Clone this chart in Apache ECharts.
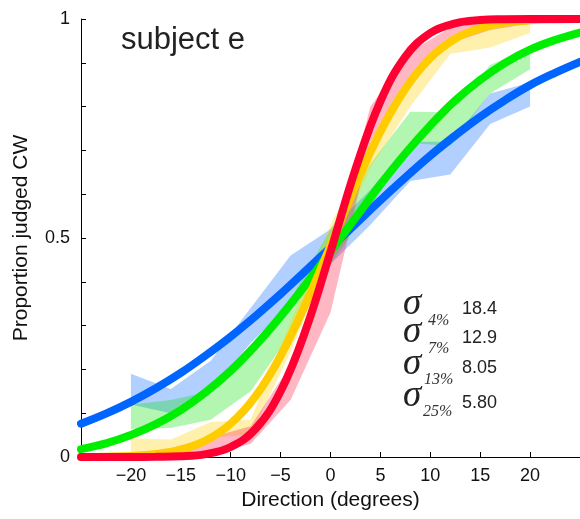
<!DOCTYPE html>
<html>
<head>
<meta charset="utf-8">
<script src="https://cdn.jsdelivr.net/npm/echarts@6/dist/echarts.min.js"></script>
<style>
html,body{margin:0;padding:0;background:#fff;}
#c{width:580px;height:519px;}
</style>
</head>
<body>
<div id="c"></div>
<script>
// ---- data ----
var curveX = [-25,-22.5,-20,-17.5,-15,-12.5,-10,-7.5,-5,-2.5,0,2.5,5,7.5,10,12.5,15,17.5,20,22.5,25];
var blueCurve   = [0.076,0.099,0.126,0.157,0.192,0.232,0.275,0.322,0.372,0.425,0.478,0.532,0.586,0.638,0.688,0.734,0.777,0.815,0.849,0.877,0.902];
var greenCurve  = [0.018,0.031,0.050,0.075,0.107,0.148,0.197,0.255,0.321,0.393,0.469,0.546,0.622,0.693,0.757,0.814,0.861,0.900,0.930,0.952,0.969];
var yellowCurve = [0.0002,0.0008,0.0024,0.0067,0.0168,0.0377,0.0762,0.139,0.231,0.349,0.483,0.620,0.743,0.841,0.911,0.955,0.979,0.992,0.997,0.999,1.0];
var redCurve    = [0,0,0,0.0003,0.0015,0.0066,0.0228,0.0644,0.150,0.289,0.469,0.657,0.812,0.914,0.968,0.990,0.9975,0.9995,1,1,1];

var bandX = [-20,-16,-12,-8,-4,0,4,8,12,16,20];
var blueLow    = [0.12,0.10,0.15,0.26,0.35,0.44,0.53,0.63,0.645,0.76,0.80];
var blueHigh   = [0.19,0.155,0.22,0.34,0.46,0.52,0.61,0.72,0.72,0.83,0.855];
var greenLow   = [0.064,0.066,0.085,0.15,0.28,0.44,0.57,0.717,0.71,0.83,0.885];
var greenHigh  = [0.12,0.13,0.15,0.24,0.36,0.52,0.67,0.788,0.787,0.895,0.935];
var yellowLow  = [0.011,0.016,0.045,0.05,0.24,0.46,0.66,0.80,0.92,0.935,0.968];
var yellowHigh = [0.043,0.04,0.08,0.085,0.31,0.53,0.71,0.87,0.96,0.985,0.995];
var redLow     = [0,0,0.005,0.03,0.13,0.33,0.72,0.865,0.945,0.975,0.99];
var redHigh    = [0.005,0.02,0.045,0.07,0.21,0.45,0.80,0.925,0.98,0.995,1.0];

var xTickValues = [-20,-15,-10,-5,0,5,10,15,20];
var xTickLabels = ['\u221220','\u221215','\u221210','\u22125','0','5','10','15','20'];
var yTickValues = [0,0.5,1];
var yTickLabels = ['0','0.5','1'];

var sigmaLabels = ['4%','7%','13%','25%'];
var sigmaValues = ['18.4','12.9','8.05','5.80'];
var titleText = 'subject e';

// ---- build ----
function pairs(xs, ys){ return xs.map(function(x,i){return [x, ys[i]];}); }
function bandRows(xs, lo, hi){ return xs.map(function(x,i){return [x, lo[i], hi[i]];}); }

var conds = [
  {name:'blue',   line:'#0064ff', band:'rgba(0,100,255,0.30)', curve:blueCurve,   lo:blueLow,   hi:blueHigh},
  {name:'green',  line:'#00ee00', band:'rgba(0,225,0,0.30)',   curve:greenCurve,  lo:greenLow,  hi:greenHigh},
  {name:'yellow', line:'#ffcc00', band:'rgba(255,210,0,0.32)', curve:yellowCurve, lo:yellowLow, hi:yellowHigh},
  {name:'red',    line:'#ff0033', band:'rgba(255,30,70,0.32)', curve:redCurve,    lo:redLow,    hi:redHigh}
];

function makeBandRender(rows, color){
  return function(params, api){
    if (params.dataIndex !== 0) return null;
    var top = [], bot = [];
    for (var i=0;i<rows.length;i++){
      top.push(api.coord([rows[i][0], rows[i][2]]));
      bot.push(api.coord([rows[i][0], rows[i][1]]));
    }
    var pts = top.concat(bot.reverse());
    return {type:'polygon', shape:{points:pts}, style:{fill:color, stroke:null}, silent:true};
  };
}

var series = [];
conds.forEach(function(c){
  var rows = bandRows(bandX, c.lo, c.hi);
  series.push({
    type:'custom', name:c.name+'Band', data:rows,
    encode:{x:0, y:[1,2]},
    renderItem:makeBandRender(rows, c.band),
    silent:true, animation:false
  });
  series.push({
    type:'line', name:c.name+'Fit', data:pairs(curveX, c.curve),
    symbol:'none', smooth:0.4,
    lineStyle:{color:c.line, width:8, cap:'round'}, silent:true, animation:false
  });
});

var graphics = [{
  type:'text', x:121, y:40,
  style:{text:titleText, font:'31px "Liberation Sans", Arial, sans-serif', fill:'#222', align:'left', verticalAlign:'middle'}
}];
var sigY = [304, 332, 364, 396];
var subY = [321, 349, 380, 412];
var valY = [309, 338, 368, 403];
var subX = [428, 428, 424, 423];
sigmaLabels.forEach(function(lab, i){
  graphics.push({type:'text', x:403, y:sigY[i], style:{text:'\u03c3', font:'italic 37px "Liberation Serif", "Times New Roman", serif', fill:'#222', align:'left', verticalAlign:'middle'}});
  graphics.push({type:'text', x:subX[i], y:subY[i], style:{text:lab, font:'italic 16px "Liberation Serif", "Times New Roman", serif', fill:'#333', align:'left', verticalAlign:'middle'}});
  graphics.push({type:'text', x:462, y:valY[i], style:{text:sigmaValues[i], font:'18px "Liberation Sans", Arial, sans-serif', fill:'#222', align:'left', verticalAlign:'middle'}});
});

var chart = echarts.init(document.getElementById('c'), null, {renderer:'canvas'});
chart.setOption({
  animation:false,
  backgroundColor:'#fff',
  grid:{left:81, right:0, top:19, bottom:62, containLabel:false, outerBoundsMode:'none'},
  xAxis:{
    type:'value', min:-25, max:25, interval:5,
    name:'Direction (degrees)', nameLocation:'middle', nameGap:29,
    nameTextStyle:{fontSize:21, color:'#111', fontFamily:'Liberation Sans'},
    axisLine:{show:true, onZero:false, lineStyle:{color:'#000', width:1}},
    axisTick:{show:true, inside:true, length:5, lineStyle:{color:'#000'}},
    axisLabel:{fontSize:18, color:'#111', fontFamily:'Liberation Sans', margin:10,
      formatter:function(v){ var i = xTickValues.indexOf(v); return i<0 ? '' : xTickLabels[i]; }},
    splitLine:{show:false}
  },
  yAxis:{
    type:'value', min:0, max:1, interval:0.1,
    name:'Proportion judged CW', nameLocation:'middle', nameGap:49, nameRotate:90,
    nameTextStyle:{fontSize:21, color:'#111', fontFamily:'Liberation Sans'},
    axisLine:{show:true, onZero:false, lineStyle:{color:'#000', width:1}},
    axisTick:{show:true, inside:true, length:5, lineStyle:{color:'#000'}},
    axisLabel:{fontSize:18, color:'#111', fontFamily:'Liberation Sans', margin:11,
      formatter:function(v){
        for (var i=0;i<yTickValues.length;i++){ if (Math.abs(v-yTickValues[i])<1e-9) return yTickLabels[i]; }
        return '';
      }},
    splitLine:{show:false}
  },
  graphic:graphics,
  series:series
});
</script>
</body>
</html>
